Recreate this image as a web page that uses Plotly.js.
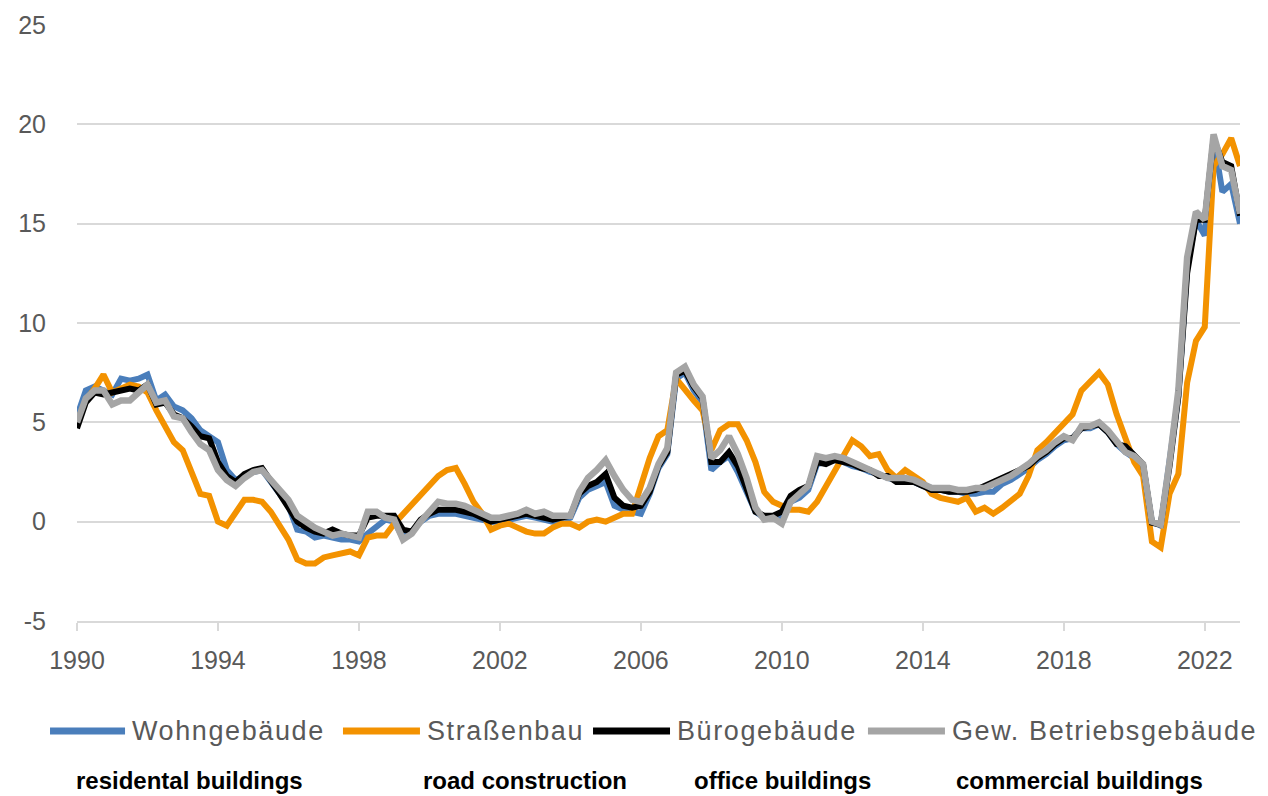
<!DOCTYPE html>
<html>
<head>
<meta charset="utf-8">
<script src="https://cdn.plot.ly/plotly-3.0.1.min.js"></script>
<style>
  html, body { margin: 0; padding: 0; background: #ffffff; }
  #chart { width: 1268px; height: 796px; }
</style>
</head>
<body>
<div id="chart"></div>
<script>
// Quarterly data, 1990 Q1 .. 2023 Q1 (year-on-year change, %)
const startYear = 1990;
const seriesNames = ["Wohngebäude", "Straßenbau", "Bürogebäude", "Gew. Betriebsgebäude"];
const englishLabels = ["residental buildings", "road construction", "office buildings", "commercial buildings"];
const tickYears = [1990, 1994, 1998, 2002, 2006, 2010, 2014, 2018, 2022];
const yTicks = [-5, 0, 5, 10, 15, 20, 25];

const wohngebaeude = [
  5.3, 6.6, 6.8, 6.6,   6.4, 7.2, 7.1, 7.2,   7.4, 6.1, 6.4, 5.8,   5.6, 5.2, 4.6, 4.3,
  4.0, 2.6, 2.1, 2.3,   2.5, 2.6, 2.0, 1.5,   0.8, -0.4, -0.5, -0.8, -0.7, -0.8, -0.9, -0.9,
  -1.0, -0.6, -0.2, 0.1, 0.0, -0.8, -0.5, 0.0, 0.3, 0.4, 0.4, 0.4,   0.3, 0.2, 0.1, 0.0,
  0.0, 0.1, 0.2, 0.3,   0.2, 0.1, 0.0, 0.0,   0.2, 1.2, 1.6, 1.8,   2.0, 0.8, 0.6, 0.5,
  0.4, 1.4, 2.7, 3.4,   7.2, 7.5, 6.6, 6.0,   2.6, 3.0, 3.3, 2.5,   1.5, 0.5, 0.2, 0.2,
  0.3, 1.0, 1.2, 1.6,   2.9, 3.0, 3.1, 3.0,   2.8, 2.7, 2.5, 2.4,   2.2, 2.1, 2.0, 2.0,
  1.8, 1.7, 1.6, 1.5,   1.5, 1.4, 1.4, 1.5,   1.5, 1.9, 2.1, 2.4,   2.7, 3.1, 3.4, 3.8,
  4.1, 4.2, 4.7, 4.7,   4.9, 4.5, 3.9, 3.5,   3.2, 2.8, 0.0, -0.2,  2.8, 6.3, 12.8, 15.2,
  14.4, 19.3, 16.6, 17.0, 15.0
];

const strassenbau = [
  5.0, 6.1, 6.7, 7.4,   6.5, 6.7, 6.9, 6.8,   6.5, 5.6, 4.8, 4.0,   3.6, 2.5, 1.4, 1.3,
  0.0, -0.2, 0.5, 1.1,  1.1, 1.0, 0.5, -0.2,  -0.9, -1.9, -2.1, -2.1, -1.8, -1.7, -1.6, -1.5,
  -1.7, -0.8, -0.7, -0.7, -0.1, 0.4, 0.8, 1.3, 1.8, 2.3, 2.6, 2.7,   1.9, 1.0, 0.4, -0.4,
  -0.2, -0.1, -0.3, -0.5, -0.6, -0.6, -0.3, -0.1, -0.1, -0.3, 0.0, 0.1, 0.0, 0.2, 0.4, 0.4,
  1.8, 3.2, 4.3, 4.6,   7.2, 6.6, 6.1, 5.6,   3.6, 4.6, 4.9, 4.9,   4.1, 3.0, 1.5, 1.0,
  0.8, 0.6, 0.6, 0.5,   1.0, 1.8, 2.6, 3.4,   4.1, 3.8, 3.3, 3.4,   2.6, 2.2, 2.6, 2.3,
  2.0, 1.4, 1.2, 1.1,   1.0, 1.2, 0.5, 0.7,   0.4, 0.7, 1.1, 1.4,   2.3, 3.6, 4.0, 4.5,
  5.0, 5.4, 6.6, 7.0,   7.5, 6.9, 5.4, 4.2,   3.0, 2.3, -1.0, -1.3, 1.4, 2.4, 7.0, 9.1,
  9.8, 17.9, 18.5, 19.3, 17.9
];

const buerogebaeude = [
  4.7, 6.0, 6.5, 6.4,   6.5, 6.6, 6.7, 6.6,   6.9, 5.9, 6.0, 5.4,   5.2, 4.8, 4.3, 4.2,
  3.0, 2.3, 2.0, 2.4,   2.6, 2.7, 2.1, 1.4,   0.7, 0.0, -0.3, -0.5,  -0.6, -0.4, -0.6, -0.7,
  -0.7, 0.2, 0.3, 0.3,  0.3, -0.4, -0.5, 0.1, 0.4, 0.6, 0.6, 0.6,   0.5, 0.4, 0.2, 0.0,
  0.1, 0.2, 0.3, 0.4,   0.3, 0.2, 0.1, 0.2,   0.3, 1.4, 1.8, 2.0,   2.4, 1.2, 0.8, 0.7,
  0.8, 1.5, 2.8, 3.5,   7.4, 7.6, 6.8, 6.2,   3.0, 3.0, 3.5, 2.8,   1.6, 0.5, 0.3, 0.3,
  0.5, 1.3, 1.6, 1.8,   3.0, 2.9, 3.1, 3.0,   2.9, 2.7, 2.6, 2.3,   2.3, 2.0, 2.0, 2.0,
  1.8, 1.6, 1.6, 1.5,   1.5, 1.5, 1.6, 1.8,   2.0, 2.2, 2.4, 2.6,   2.8, 3.2, 3.5, 3.9,
  4.2, 4.2, 4.7, 4.8,   4.9, 4.5, 3.9, 3.8,   3.3, 2.9, -0.05, -0.15, 2.8, 6.3, 12.5, 15.2,
  15.2, 19.3, 18.1, 17.9, 15.4
];

const gewerbe = [
  5.0, 6.2, 6.6, 6.6,   5.9, 6.1, 6.1, 6.5,   6.9, 6.0, 6.1, 5.3,   5.2, 4.5, 3.9, 3.6,
  2.6, 2.1, 1.8, 2.2,   2.5, 2.6, 2.1, 1.5,   1.1, 0.3, 0.0, -0.3,  -0.5, -0.7, -0.6, -0.7,
  -0.8, 0.5, 0.5, 0.2,  0.1, -0.9, -0.6, 0.0, 0.5, 1.0, 0.9, 0.9,   0.8, 0.6, 0.4, 0.2,
  0.2, 0.3, 0.4, 0.6,   0.4, 0.5, 0.3, 0.3,   0.3, 1.5, 2.2, 2.6,   3.1, 2.3, 1.6, 1.1,
  1.0, 1.7, 2.9, 3.7,   7.5, 7.8, 6.9, 6.3,   3.2, 3.6, 4.3, 3.4,   2.2, 0.7, 0.1, 0.2,
  -0.1, 1.0, 1.4, 1.8,  3.3, 3.2, 3.3, 3.2,   3.0, 2.8, 2.6, 2.4,   2.2, 2.2, 2.2, 2.1,
  1.9, 1.7, 1.7, 1.7,   1.6, 1.6, 1.7, 1.7,   1.9, 2.1, 2.3, 2.6,   2.9, 3.3, 3.6, 4.0,
  4.3, 4.1, 4.8, 4.8,   5.0, 4.6, 4.0, 3.5,   3.3, 2.9, 0.0, -0.15, 3.0, 6.6, 13.3, 15.6,
  15.2, 19.5, 17.9, 17.7, 15.5
];

const colors = ["#4A7EBB", "#F39200", "#000000", "#A5A5A5"];
const widths = [6, 6, 6, 6.5];

// quarter positions on a numeric time axis
const quarters = wohngebaeude.map((_, i) => startYear + i / 4);

const values = [wohngebaeude, strassenbau, buerogebaeude, gewerbe];
const traces = values.map((v, k) => ({
  x: quarters,
  y: v,
  type: "scatter",
  mode: "lines",
  name: seriesNames[k],
  line: { color: colors[k], width: widths[k] },
  showlegend: false,
  hoverinfo: "x+y+name"
}));

const tickFont = { family: "Liberation Sans, Arial, sans-serif", size: 25, color: "#595959" };

// legend drawn as paper-anchored samples + labels (longer line samples as in the original)
const legendY = -0.1846;
const legendLineX = [[-0.0232, 0.0413], [0.2287, 0.2949], [0.4437, 0.5099], [0.6801, 0.7463]];
const legendTextX = [0.0456, 0.2992, 0.5142, 0.7506];

const shapes = legendLineX.map((p, k) => ({
  type: "line", xref: "paper", yref: "paper",
  x0: p[0], x1: p[1], y0: legendY, y1: legendY,
  line: { color: colors[k], width: 7 }
}));

const legendAnn = seriesNames.map((t, k) => ({
  text: t,
  xref: "paper", yref: "paper",
  x: legendTextX[k], y: legendY,
  xanchor: "left", yanchor: "middle",
  showarrow: false,
  font: { family: "Liberation Sans, Arial, sans-serif", size: 27, color: "#595959" }
}));

const annPos = [0.097, 0.385, 0.607, 0.862];
const labelAnn = englishLabels.map((t, k) => ({
  text: "<b>" + t + "</b>",
  xref: "paper", yref: "paper",
  x: annPos[k], y: -0.268,
  xanchor: "center", yanchor: "middle",
  showarrow: false,
  font: { family: "Liberation Sans Narrow, Arial Narrow, Liberation Sans, Arial, sans-serif", size: 24, color: "#000000" }
}));

const layout = {
  width: 1268,
  height: 796,
  margin: { l: 77, r: 28, t: 25, b: 175 },
  paper_bgcolor: "#ffffff",
  plot_bgcolor: "#ffffff",
  showlegend: false,
  xaxis: {
    type: "linear",
    range: [1990, 2023],
    tickvals: tickYears,
    ticktext: tickYears.map(String),
    showgrid: false,
    zeroline: false,
    showline: true,
    linecolor: "#D9D9D9",
    linewidth: 2,
    ticks: "outside",
    ticklen: 8,
    tickwidth: 2,
    tickcolor: "#D9D9D9",
    tickfont: tickFont,
    ticklabelstandoff: 8,
    fixedrange: true
  },
  yaxis: {
    range: [-5, 25],
    tickvals: yTicks,
    ticktext: yTicks.map(String),
    showgrid: true,
    gridcolor: "#D9D9D9",
    gridwidth: 2,
    zeroline: false,
    showline: false,
    ticks: "",
    tickfont: tickFont,
    ticklabelstandoff: 30,
    fixedrange: true
  },
  shapes: shapes,
  annotations: legendAnn.concat(labelAnn)
};

Plotly.newPlot("chart", traces, layout, { displayModeBar: false, staticPlot: true }).then(() => {
  // widen legend labels slightly (letter spacing) while keeping their left edge fixed
  document.querySelectorAll(".annotation-text").forEach(el => {
    if (seriesNames.indexOf(el.textContent) >= 0) {
      const before = el.getBBox().x;
      el.style.letterSpacing = "1.6px";
      const after = el.getBBox().x;
      const x0 = parseFloat(el.getAttribute("x")) || 0;
      el.setAttribute("x", x0 + (before - after));
    }
  });
});
</script>
</body>
</html>
